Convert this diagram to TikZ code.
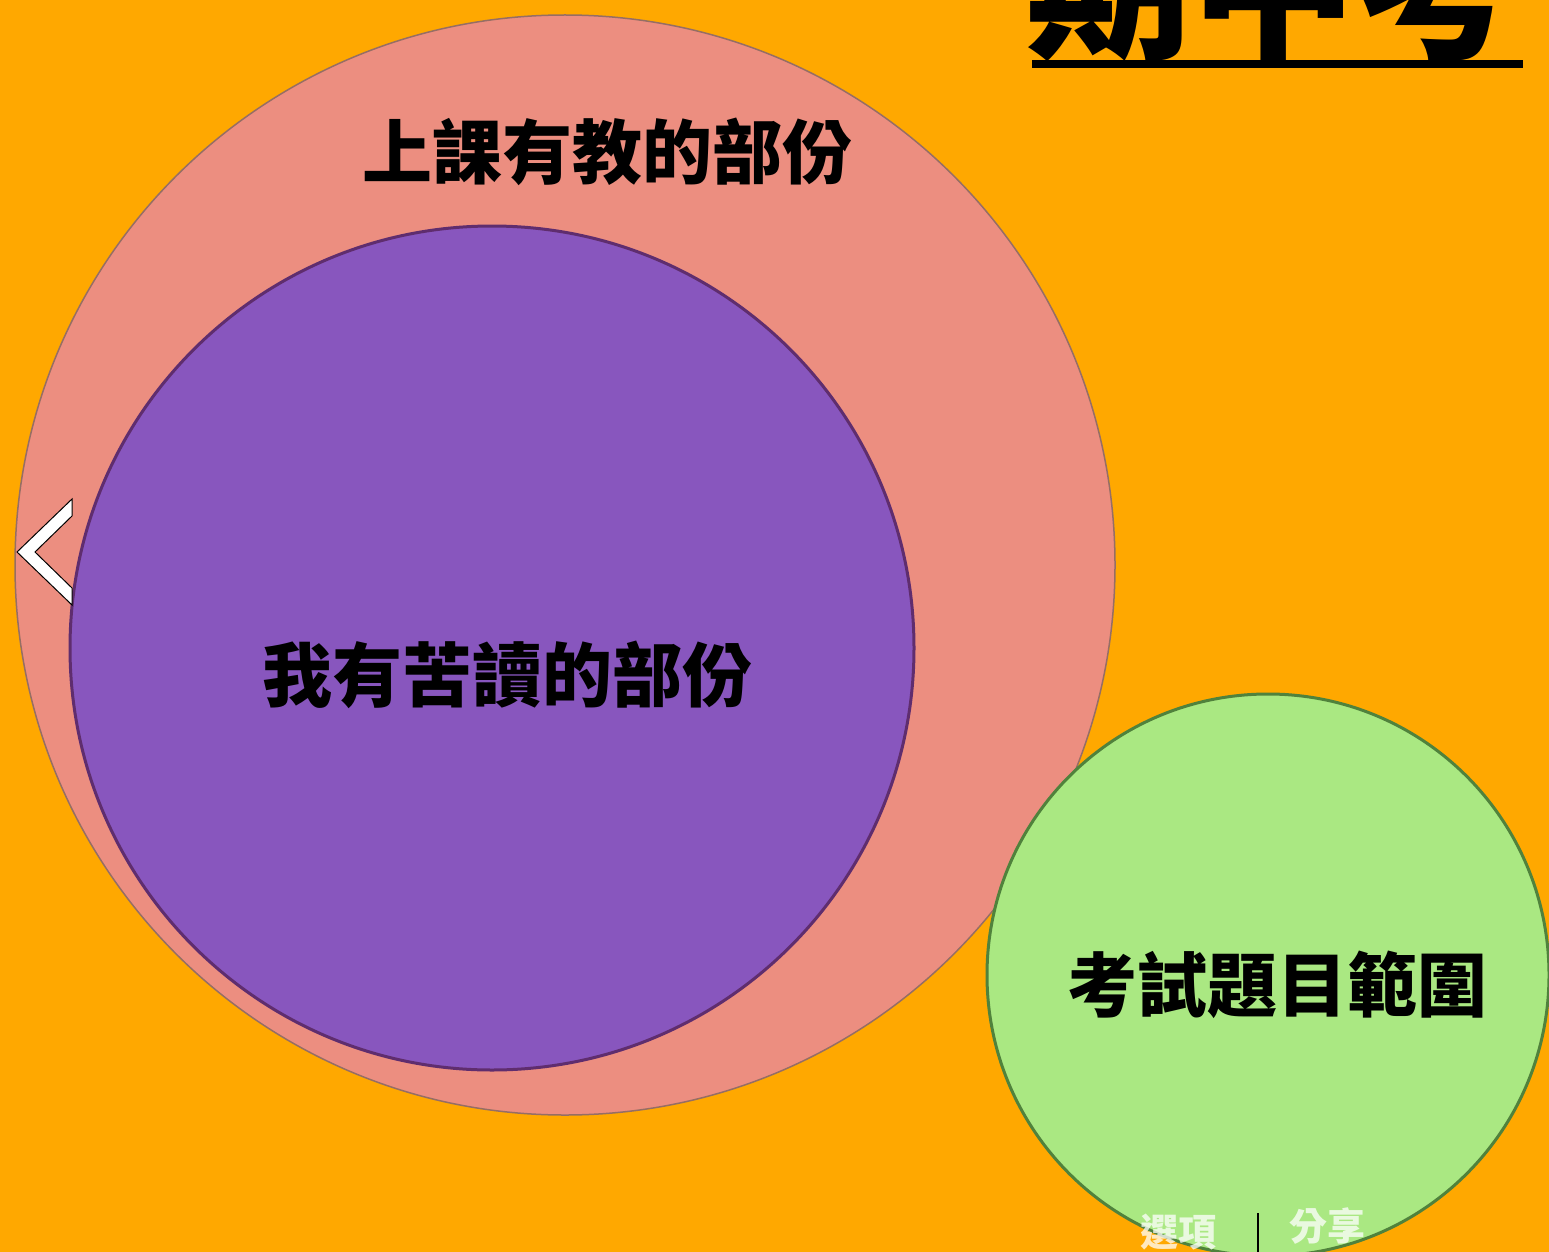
\documentclass[tikz,border=0pt]{standalone}
\usepackage{fontspec}
\newfontfamily\cjk{Noto Sans CJK TC}
\definecolor{bgorange}{RGB}{255,168,0}
\definecolor{pinkc}{RGB}{236,142,128}
\definecolor{purplec}{RGB}{136,86,190}
\definecolor{greenc}{RGB}{170,232,130}
\definecolor{purpleedge}{RGB}{95,45,110}
\definecolor{greenedge}{RGB}{80,130,60}
\definecolor{pinkedge}{RGB}{150,110,100}
\tikzset{
  setcircle/.style={circle, inner sep=0pt, draw},
  label/.style={font=\cjk\bfseries\fontsize{70}{70}\selectfont, text=black, inner sep=0pt},
  uitext/.style={font=\cjk\bfseries\fontsize{38}{38}\selectfont, text=white, opacity=0.75, inner sep=0pt},
}
\begin{document}
\begin{tikzpicture}[x=1pt,y=-1pt]
\useasboundingbox (0,0) rectangle (1549,1252);
\clip (0,0) rectangle (1549,1252);
\fill[bgorange] (0,0) rectangle (1549,1252);
% circles
\node[setcircle, fill=pinkc, draw=pinkedge, line width=1.5pt, minimum size=1100pt] (taught) at (565,565) {};
\node[setcircle, fill=purplec, draw=purpleedge, line width=3pt, minimum size=844pt] (studied) at (492,648) {};
\node[setcircle, fill=greenc, draw=greenedge, line width=3pt, minimum size=562pt] (exam) at (1268,975) {};
% labels
\node[label] (ltaught) at (607,152) {上課有教的部份};
\node[label] (lstudied) at (507,675) {我有苦讀的部份};
\node[label] (lexam) at (1277,985) {考試題目範圍};
% title (cut off at top)
\node[font=\cjk\bfseries\fontsize{165}{165}\selectfont, inner sep=0pt, anchor=base east] (title) at (1522,46) {期中考};
\draw[line width=8pt] (1032,64) -- (1523,64);
% back chevron
\filldraw[fill=white, draw=black, line width=1pt] (72,499) -- (17,552) -- (72,605) -- (72,588) -- (35,552) -- (72,516) -- cycle;
% bottom UI text
\node[uitext] (opt) at (1178,1232) {選項};
\node[uitext] (share) at (1327,1226) {分享};
\coordinate (sepTop) at (1258,1213);
\coordinate (sepBot) at (1258,1252);
\draw[line width=2pt, black] (sepTop) -- (sepBot);
\end{tikzpicture}
\end{document}
